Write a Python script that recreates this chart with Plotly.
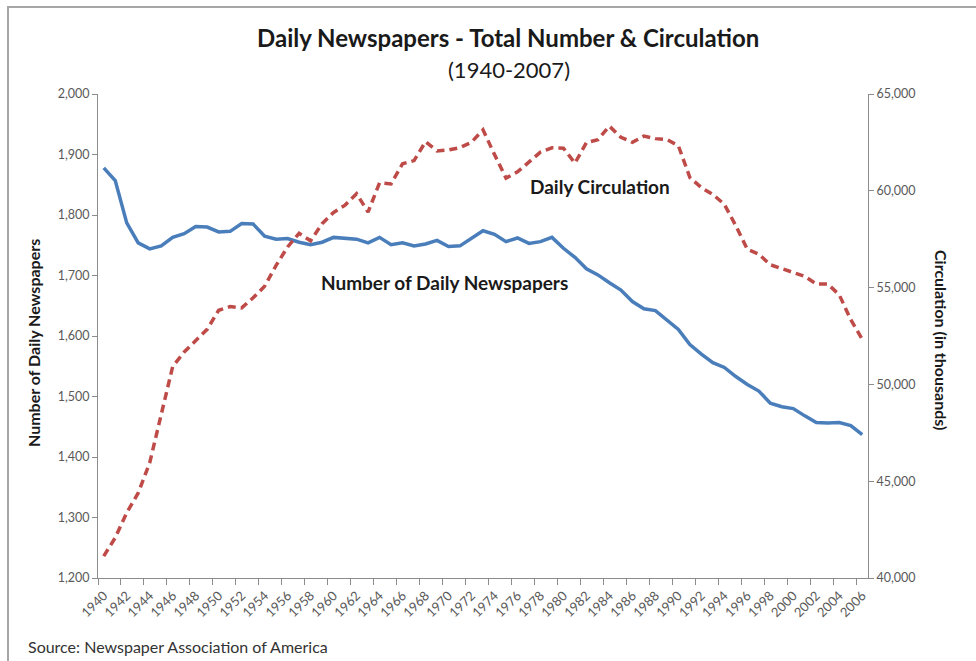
import plotly.graph_objects as go

years = list(range(1940, 2007))
num_papers = [1878, 1857, 1787, 1754, 1744, 1749, 1763, 1769, 1781, 1780,
              1772, 1773, 1786, 1785, 1765, 1760, 1761, 1755, 1751, 1755,
              1763, 1761, 1760, 1754, 1763, 1751, 1754, 1749, 1752, 1758,
              1748, 1749, 1761, 1774, 1768, 1756, 1762, 1753, 1756, 1763,
              1745, 1730, 1711, 1701, 1688, 1676, 1657, 1645, 1642, 1626,
              1611, 1586, 1570, 1556, 1548, 1533, 1520, 1509, 1489, 1483,
              1480, 1468, 1457, 1456, 1457, 1452, 1437]
circulation = [41132, 42080, 43375, 44393, 45955, 48384, 50928, 51673, 52285, 52846,
               53829, 54018, 53951, 54472, 55072, 56147, 57102, 57805, 57418, 58300,
               58882, 59261, 59849, 58905, 60412, 60358, 61397, 61561, 62535, 62060,
               62108, 62231, 62510, 63147, 61877, 60655, 60977, 61495, 62000, 62223,
               62202, 61431, 62487, 62645, 63340, 62766, 62502, 62826, 62695, 62649,
               62328, 60687, 60164, 59812, 59305, 58193, 56983, 56728, 56182, 55979,
               55773, 55578, 55186, 55185, 54626, 53345, 52329]

FONT = "Lato"
GREY = "#595959"
AX = "#8C8C8C"

fig = go.Figure()
fig.add_trace(go.Scatter(x=years, y=num_papers, mode="lines", name="Number of Daily Newspapers",
                         line=dict(color="#4A7EBB", width=3.5), yaxis="y"))
fig.add_trace(go.Scatter(x=years, y=circulation, mode="lines", name="Daily Circulation",
                         line=dict(color="#BE4B48", width=3.5, dash="8px,5px"), yaxis="y2"))

fig.update_layout(
    width=976, height=661,
    margin=dict(l=98, r=108, t=94, b=83),
    paper_bgcolor="white", plot_bgcolor="white",
    showlegend=False,
    font=dict(family=FONT, color=GREY),
    xaxis=dict(range=[1939.5, 2006.5], tickmode="linear", tick0=1940, dtick=2,
               tickangle=-45, ticks="", showline=True, linecolor=AX, linewidth=1,
               showgrid=False, zeroline=False, tickfont=dict(size=13, color=GREY),
               ticklabelstandoff=4,
               minor=dict(ticks="outside", tickmode="linear", tick0=1939.5, dtick=2,
                          ticklen=6, tickcolor=AX, showgrid=False)),
    yaxis=dict(range=[1200, 2000], dtick=100, tickformat=",", ticks="outside", ticklen=5,
               tickcolor=AX, showline=True, linecolor=AX, linewidth=1, showgrid=False,
               zeroline=False, tickfont=dict(size=12.5, color=GREY)),
    yaxis2=dict(range=[40000, 65000], dtick=5000, tickformat=",", overlaying="y", side="right",
                ticks="outside", ticklen=5, tickcolor=AX, showline=True, linecolor=AX,
                linewidth=1, showgrid=False, zeroline=False, tickfont=dict(size=12.5, color=GREY)),
)

W = 770.0
H = 484.0
def px(x):
    return (x - 98) / W
def py(y):
    return (578 - y) / H

fig.add_shape(type="rect", xref="paper", yref="paper",
              x0=px(8), x1=px(1030), y0=py(700), y1=py(7),
              line=dict(color="#A6A6A6", width=2), layer="below")

fig.add_annotation(xref="paper", yref="paper", x=px(508), y=py(38), showarrow=False,
                   text="<b>Daily Newspapers - Total Number &amp; Circulation</b>",
                   font=dict(size=24, color="#1A1A1A", family=FONT), xanchor="center", yanchor="middle")
fig.add_annotation(xref="paper", yref="paper", x=px(509), y=py(70), showarrow=False,
                   text="(1940-2007)",
                   font=dict(size=22, color="#1A1A1A", family=FONT), xanchor="center", yanchor="middle")
fig.add_annotation(xref="paper", yref="paper", x=px(33), y=py(343), showarrow=False,
                   text="<b>Number of Daily Newspapers</b>", textangle=-90,
                   font=dict(size=16, color="#1A1A1A", family=FONT), xanchor="center", yanchor="middle")
fig.add_annotation(xref="paper", yref="paper", x=px(942), y=py(340), showarrow=False,
                   text="<b>Circulation (in thousands)</b>", textangle=90,
                   font=dict(size=16, color="#1A1A1A", family=FONT), xanchor="center", yanchor="middle")
fig.add_annotation(xref="paper", yref="paper", x=px(600), y=py(186), showarrow=False,
                   text="<b>Daily Circulation</b>",
                   font=dict(size=19, color="#1A1A1A", family=FONT), xanchor="center", yanchor="middle")
fig.add_annotation(xref="paper", yref="paper", x=px(444), y=py(282), showarrow=False,
                   text="<b>Number of Daily Newspapers</b>",
                   font=dict(size=19, color="#1A1A1A", family=FONT), xanchor="center", yanchor="middle")
fig.add_annotation(xref="paper", yref="paper", x=px(26), y=py(646), showarrow=False,
                   text="Source: Newspaper Association of America",
                   font=dict(size=16, color="#333333", family=FONT), xanchor="left", yanchor="middle")

fig.write_html("out.html", config={"displayModeBar": False},
               post_script="document.body.style.margin='0';document.body.style.overflow='hidden';")
